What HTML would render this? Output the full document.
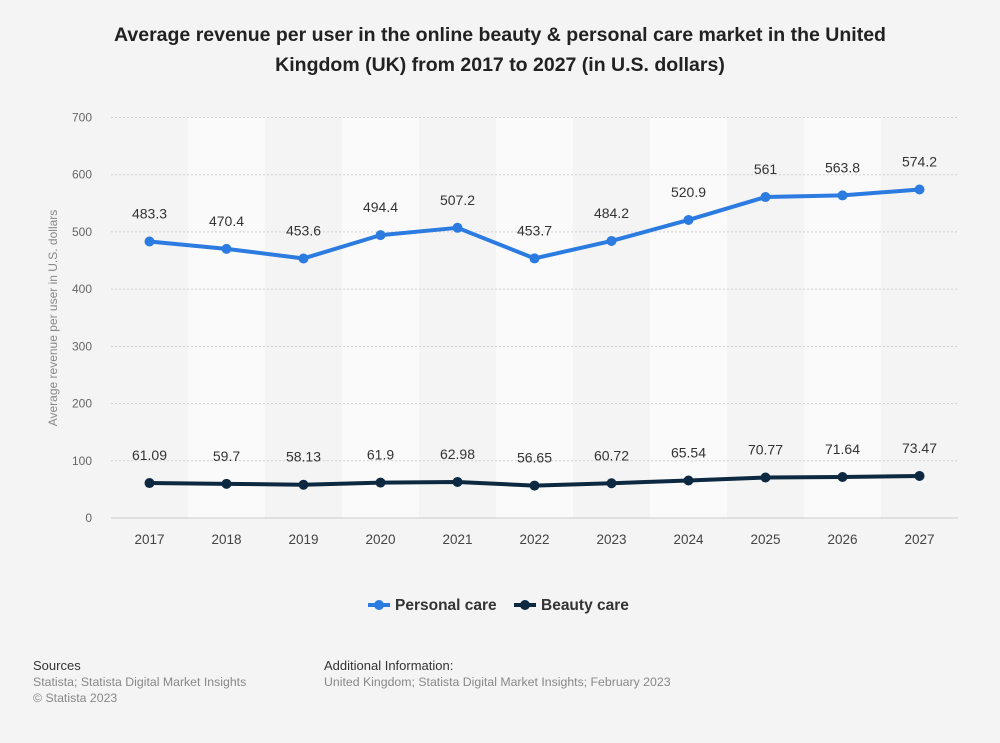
<!DOCTYPE html>
<html><head><meta charset="utf-8"><style>
body{margin:0;background:#f4f4f4;font-family:"Liberation Sans",Arial,sans-serif;}
#wrap{position:relative;width:1000px;height:743px;overflow:hidden;background:#f4f4f4}
.t{position:absolute;left:0;width:1000px;text-align:center;top:20px;font-size:19.5px;font-weight:bold;color:#222;line-height:30px}
.foot{position:absolute;font-size:12.3px;color:#888;line-height:16px}
.foot b{color:#333;font-weight:normal;font-size:13px}
</style></head><body>
<div id="wrap">
<div class="t">Average revenue per user in the online beauty &amp; personal care market in the United<br>Kingdom (UK) from 2017 to 2027 (in U.S. dollars)</div>
<svg id="c" width="1000" height="743" style="position:absolute;left:0;top:0"></svg>
<div class="foot" style="left:33px;top:658px"><b>Sources</b><br>Statista; Statista Digital Market Insights<br>© Statista 2023</div>
<div class="foot" style="left:324px;top:658px"><b>Additional Information:</b><br>United Kingdom; Statista Digital Market Insights; February 2023</div>
</div>
<script>
const categories=["2017","2018","2019","2020","2021","2022","2023","2024","2025","2026","2027"];
const personalCare=[483.3,470.4,453.6,494.4,507.2,453.7,484.2,520.9,561,563.8,574.2];
const personalLabels=["483.3","470.4","453.6","494.4","507.2","453.7","484.2","520.9","561","563.8","574.2"];
const beautyCare=[61.09,59.7,58.13,61.9,62.98,56.65,60.72,65.54,70.77,71.64,73.47];
const beautyLabels=["61.09","59.7","58.13","61.9","62.98","56.65","60.72","65.54","70.77","71.64","73.47"];
const yTicks=[0,100,200,300,400,500,600,700];
const svg=document.getElementById('c');const NS="http://www.w3.org/2000/svg";
const X0=111,X1=958,Y0=518,Y1=117.5,YMAX=700;
const bw=(X1-X0)/categories.length;
const x=i=>X0+bw*(i+0.5);
const y=v=>Y0-(v/YMAX)*(Y0-Y1);
function mk(tag,at,txt){const e=document.createElementNS(NS,tag);for(const k in at)e.setAttribute(k,at[k]);if(txt!==undefined)e.textContent=txt;svg.appendChild(e);return e;}
categories.forEach((c,i)=>{if(i%2==1){const r=mk('rect',{x:X0+bw*i,y:Y1,width:bw,height:Y0-Y1,fill:'#fafafa'});

}});
yTicks.forEach(t=>{const l=mk('line',{x1:X0,x2:X1,y1:y(t),y2:y(t),stroke:t==0?'#ccc':'#d0d0d0','stroke-dasharray':t==0?'':'2,2','stroke-width':1});


const tx=mk('text',{x:92,y:y(t)+4,'text-anchor':'end','font-size':12,fill:'#666'},String(t));

});
categories.forEach((c,i)=>{const tx=mk('text',{x:x(i),y:544,'text-anchor':'middle','font-size':13.5,fill:'#444'},c);

});
const yt=mk('text',{transform:'translate(57,318) rotate(-90)','text-anchor':'middle','font-size':12,fill:'#888'},'Average revenue per user in U.S. dollars');


function series(vals,labels,color,name){
const p=mk('polyline',{points:vals.map((v,i)=>x(i)+','+y(v)).join(' '),fill:'none',stroke:color,'stroke-width':4,'stroke-linejoin':'round'});


vals.forEach((v,i)=>{const d=mk('circle',{cx:x(i),cy:y(v),r:5,fill:color});


const t=mk('text',{x:x(i),y:y(v)-23,'text-anchor':'middle','font-size':14,fill:'#333'},labels[i]);

});}
series(personalCare,personalLabels,'#2b7be0','personal-care');
series(beautyCare,beautyLabels,'#0d2841','beauty-care');
function legend(lx,color,label,name){
const g=mk('line',{x1:lx,x2:lx+22,y1:605,y2:605,stroke:color,'stroke-width':4});


const c=mk('circle',{cx:lx+11,cy:605,r:5,fill:color});


const t=mk('text',{x:lx+27,y:610,'font-size':15.5,'font-weight':'bold',fill:'#333'},label);

}
legend(368,'#2b7be0','Personal care','personal-care');
legend(514,'#0d2841','Beauty care','beauty-care');
</script>
</body></html>
